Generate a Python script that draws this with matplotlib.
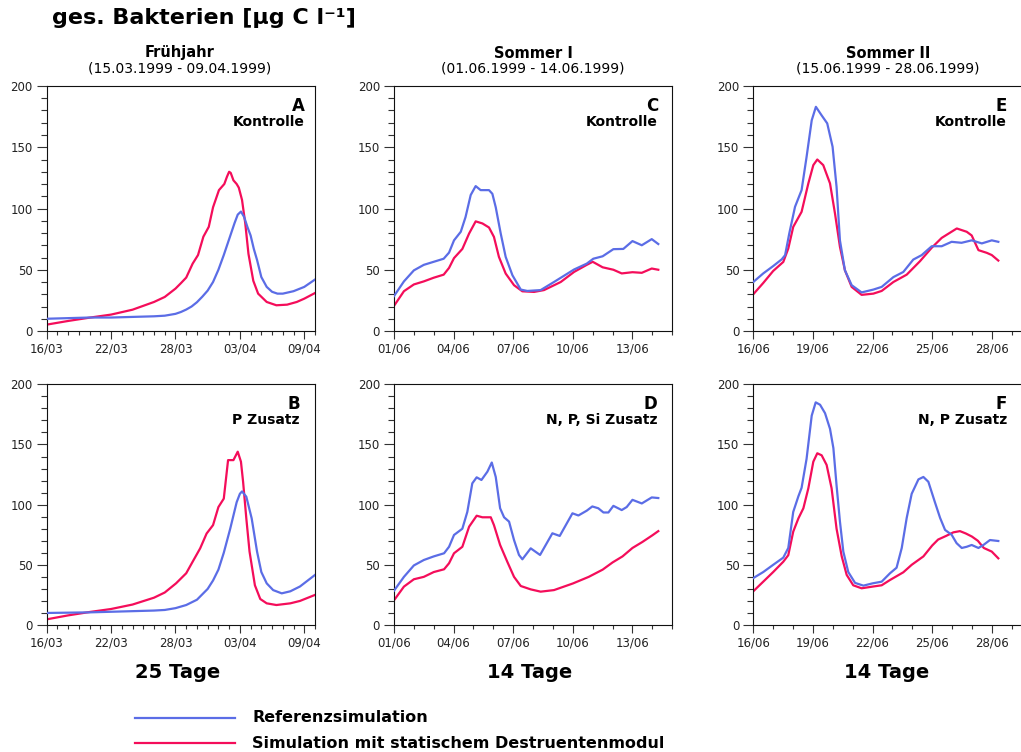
import matplotlib
matplotlib.use("Agg")
import matplotlib.pyplot as plt
from matplotlib.ticker import MultipleLocator

plt.rcParams['font.family'] = ['DejaVu Sans']

# days since first tick date, readings taken from the figure
a_ref_t = [0, 2, 4, 6, 8, 10, 11, 12, 12.5, 13, 13.5, 14, 14.5, 15, 15.5, 16, 16.5, 17, 17.5, 17.8, 18.1,
           18.4, 18.7, 19, 19.3, 19.6, 20, 20.5, 21, 21.5, 22, 23, 24, 25]
a_ref = [10, 10.5, 11, 11, 11.5, 12, 12.5, 14, 15.5, 17.5, 20, 23.5, 28, 33, 40, 50, 62, 75, 88, 95, 97.5,
         93, 85, 78, 67, 58, 44, 36, 32, 30.5, 30.5, 32.5, 36, 42]
a_stat_t = [0, 2, 4, 6, 8, 10, 11, 12, 12.5, 13, 13.6, 14.1, 14.6, 15.1, 15.5, 16.05, 16.55, 16.8, 17.0, 17.15,
            17.4, 17.7, 17.9, 18.2, 18.5, 18.8, 19.25, 19.7, 20.5, 21.4, 22.4, 23.3, 24, 25]
a_stat = [5.2, 8.2, 10.9, 13.4, 17.4, 23.7, 27.8, 34.6, 39, 43.6, 55, 62, 77, 85, 101, 115, 120, 126, 130, 129,
          123, 120, 117, 107, 88, 63, 41, 30.5, 23.7, 21, 21.5, 23.7, 26.4, 31]

b_ref_t = [0, 4, 8, 10, 11, 12, 13, 14, 15, 15.5, 16, 16.5, 17.1, 17.7, 18.0, 18.2, 18.6, 19.1, 19.6, 20,
           20.5, 21.1, 21.9, 22.7, 23.6, 25]
b_ref = [10, 10.5, 11.5, 12, 12.5, 14, 16.6, 21, 30, 37, 46, 60, 80, 102, 109, 111, 106.6, 88.6, 61, 44,
         34.6, 29, 26.3, 28, 32, 41.6]
b_stat_t = [0, 2, 4, 6, 8, 10, 11, 12.05, 13, 13.6, 14.3, 14.9, 15.5, 16, 16.5, 16.9, 17.4, 17.8, 18.1, 18.3,
            18.6, 18.9, 19.4, 19.9, 20.5, 21.4, 22.7, 23.6, 25]
b_stat = [4.7, 8, 10.8, 13.3, 17, 22.7, 27, 34.6, 43, 52.6, 63.7, 76, 83, 98, 105, 137, 137, 144, 135.7, 119,
          88.6, 61, 33, 21.6, 18, 16.6, 18, 20, 25]

c_ref_t = [0, 0.5, 1.0, 1.5, 2.0, 2.5, 2.77, 3.02, 3.36, 3.6, 3.86, 4.11, 4.36, 4.78, 4.95, 5.12, 5.37, 5.62,
           5.96, 6.38, 6.71, 7.38, 8.05, 9.06, 9.7, 10.03, 10.5, 11.04, 11.54, 12.0, 12.47, 12.97, 13.3]
c_ref = [28.5, 40.5, 49.5, 54, 56.5, 59, 64, 74, 81, 93, 111, 118.3, 115, 115, 112, 101, 79.6, 60.5,
         45.5, 33.8, 32.7, 33.4, 40, 50.2, 55, 59, 61, 66.8, 67, 73.4, 70, 75, 71]
c_stat_t = [0, 0.5, 1.0, 1.5, 2.0, 2.5, 2.77, 3.02, 3.44, 3.78, 4.11, 4.45, 4.78, 5.03, 5.28, 5.62, 6.04,
            6.46, 7.05, 7.55, 8.39, 9.06, 9.7, 10.0, 10.5, 11.04, 11.46, 12.0, 12.47, 12.97, 13.3]
c_stat = [20.5, 32.5, 38, 40.5, 43.5, 46, 51.5, 59.5, 67, 79.6, 89.5, 87.8, 84.5, 76.8, 60.5, 46.9, 37.4,
          32.4, 31.9, 33.4, 40, 48.2, 54, 56.5, 52, 50, 47, 48, 47.5, 51, 50]

d_ref_t = [0, 0.5, 1.0, 1.5, 2.0, 2.52, 2.77, 3.02, 3.44, 3.69, 3.94, 4.16, 4.4, 4.7, 4.92, 5.12, 5.34, 5.54,
           5.79, 6.04, 6.29, 6.46, 6.88, 7.35, 7.97, 8.34, 8.98, 9.28, 9.7, 9.98, 10.28, 10.54, 10.79, 11.04,
           11.46, 11.71, 12.0, 12.47, 12.97, 13.3]
d_ref = [28.5, 40, 49.5, 54, 57, 59.6, 65, 74.8, 80, 94, 117.7, 122.7, 120.5, 127.4, 135, 123, 97, 89.5,
         85.9, 70.6, 58.2, 54.6, 63.7, 58.2, 76.2, 74, 92.8, 91, 95, 98.5, 97, 93.5, 93.5, 99,
         95.5, 98, 104, 101, 106, 105.5]
d_stat_t = [0, 0.5, 1.0, 1.5, 2.0, 2.52, 2.77, 3.02, 3.44, 3.78, 4.16, 4.45, 4.87, 5.03, 5.34, 5.7, 6.04,
            6.38, 6.88, 7.38, 8.05, 9.0, 9.8, 10.5, 11.0, 11.5, 12.0, 12.5, 13.0, 13.3]
d_stat = [20.5, 31.9, 38, 40, 44, 46.3, 51.3, 59.6, 65, 81.7, 90.8, 89.5, 89.5, 83, 66.5, 52.6, 40,
          32.4, 29.6, 27.7, 29, 34.5, 40, 46, 52, 57, 64, 69, 74.5, 78]

e_ref_t = [0, 0.5, 1.0, 1.43, 1.6, 1.81, 2.1, 2.43, 2.68, 2.94, 3.15, 3.44, 3.72, 3.99, 4.19, 4.36, 4.61,
           4.95, 5.45, 6.04, 6.46, 7.05, 7.55, 8.05, 8.47, 8.98, 9.48, 9.98, 10.48, 10.99, 11.5, 12.0, 12.33]
e_ref = [40, 47, 53, 58.5, 61.9, 79.6, 101.4, 115, 142, 172, 183, 176, 169.5, 150.4, 117.7, 74, 49.6,
         37.4, 31.5, 33.8, 36, 44, 48.2, 58.3, 61.9, 69.2, 69.2, 72.8, 72, 74, 71.5, 74, 72.8]
e_stat_t = [0, 0.5, 1.0, 1.51, 1.76, 2.01, 2.43, 2.77, 3.02, 3.22, 3.52, 3.86, 4.11, 4.36, 4.61, 4.95, 5.45,
            6.04, 6.46, 7.05, 7.72, 8.39, 8.98, 9.48, 10.24, 10.74, 10.99, 11.33, 11.75, 12.0, 12.33]
e_stat = [30, 39.2, 49, 56.4, 67.3, 85, 97.3, 120.5, 135.4, 140, 135.4, 120.5, 96, 68.7, 49.6, 36, 29.5,
          30.5, 32.7, 40, 46, 57, 68, 76, 83.7, 81, 78, 66, 63.8, 62, 57.5]

f_ref_t = [0, 0.5, 1.0, 1.51, 1.76, 2.01, 2.27, 2.43, 2.68, 2.94, 3.14, 3.36, 3.61, 3.86, 4.03, 4.19, 4.36,
           4.53, 4.78, 5.12, 5.54, 6.0, 6.46, 6.88, 7.21, 7.47, 7.72, 7.97, 8.31, 8.56, 8.81, 9.14, 9.4,
           9.65, 9.98, 10.23, 10.49, 10.74, 10.99, 11.33, 11.58, 11.91, 12.33]
f_ref = [39, 44, 50, 56, 64, 94, 107, 114, 138, 174, 185, 183, 176, 163, 147, 116, 86,
         61, 44, 35, 32.7, 34.6, 36, 43, 47.6, 64, 89, 109, 121, 123, 119, 102, 89,
         79, 75, 68, 64, 65, 66.5, 64, 66.5, 70.6, 69.8]
f_stat_t = [0, 0.5, 1.0, 1.51, 1.76, 2.01, 2.27, 2.52, 2.77, 3.02, 3.22, 3.44, 3.69, 3.94, 4.19, 4.45, 4.7,
            5.03, 5.45, 6.0, 6.46, 6.88, 7.55, 7.97, 8.56, 9.0, 9.3, 9.7, 10.07, 10.4, 10.7, 11.0, 11.3,
            11.6, 12.0, 12.33]
f_stat = [28, 36, 44, 52.6, 58, 77.6, 88.6, 97, 113.6, 135.7, 142.7, 141, 133, 113.6, 80, 57, 41.6,
          33, 30.5, 31.9, 33, 37.4, 43.8, 50, 57, 66, 71, 74, 77, 78, 76, 73.5, 70,
          64, 61, 55.4]

ticks_fr = ['16/03', '22/03', '28/03', '03/04', '09/04']
ticks_s1 = ['01/06', '04/06', '07/06', '10/06', '13/06']
ticks_s2 = ['16/06', '19/06', '22/06', '25/06', '28/06']

W, H = 1021, 752
blue = '#5b6de6'
red = '#f40d5a'

fig = plt.figure(figsize=(W / 100, H / 100), dpi=100)


def fx(x):
    return x / W


def fy(y):
    return 1 - y / H


cols = [(46.7, 268.3, 25, 6, ticks_fr), (394, 278.2, 14, 3, ticks_s1), (753.3, 278.2, 14, 3, ticks_s2)]
rows = [(86, 331), (384.3, 625)]

panels = [
    (0, 0, 'A', 'Kontrolle', a_ref_t, a_ref, a_stat_t, a_stat, 305),
    (1, 0, 'B', 'P Zusatz', b_ref_t, b_ref, b_stat_t, b_stat, 300),
    (0, 1, 'C', 'Kontrolle', c_ref_t, c_ref, c_stat_t, c_stat, 658),
    (1, 1, 'D', 'N, P, Si Zusatz', d_ref_t, d_ref, d_stat_t, d_stat, 657),
    (0, 2, 'E', 'Kontrolle', e_ref_t, e_ref, e_stat_t, e_stat, 1007),
    (1, 2, 'F', 'N, P Zusatz', f_ref_t, f_ref, f_stat_t, f_stat, 1007),
]

for r, c, letter, name, rt, rv, st, sv, tx in panels:
    left, width, ndays, step, labels = cols[c]
    top, bottom = rows[r]
    ax = fig.add_axes([fx(left), fy(bottom), width / W, (bottom - top) / H])
    ax.plot(rt, rv, color=blue, lw=1.6, zorder=3)
    ax.plot(st, sv, color=red, lw=1.6, zorder=2)
    ax.set_xlim(0, ndays)
    ax.set_ylim(0, 200)
    ax.set_xticks([i * step for i in range(len(labels))], labels)
    ax.xaxis.set_minor_locator(MultipleLocator(1))
    ax.yaxis.set_major_locator(MultipleLocator(50))
    ax.yaxis.set_minor_locator(MultipleLocator(10))
    ax.tick_params(axis='both', which='both', direction='out', colors='#333333',
                   labelsize=8.5, labelcolor='#222222')
    ax.tick_params(axis='y', which='major', length=7, width=0.8, pad=3)
    ax.tick_params(axis='y', which='minor', length=4, width=0.8)
    ax.tick_params(axis='x', which='major', length=5.5, width=0.8, pad=3)
    ax.tick_params(axis='x', which='minor', length=3, width=0.8)
    for sp in ax.spines.values():
        sp.set_linewidth(0.8)
        sp.set_color('#111111')
    ytop = top + 20
    fig.text(fx(tx), fy(ytop), letter, ha='right', va='center', fontsize=12, fontweight='bold')
    fig.text(fx(tx), fy(ytop + 16), name, ha='right', va='center', fontsize=10, fontweight='bold')

fig.text(fx(52), fy(18), 'ges. Bakterien [µg C l⁻¹]', ha='left', va='center',
         fontsize=16, fontweight='bold')

heads = [('Frühjahr', '(15.03.1999 - 09.04.1999)', 180),
         ('Sommer I', '(01.06.1999 - 14.06.1999)', 533),
         ('Sommer II', '(15.06.1999 - 28.06.1999)', 888)]
for t1, t2, cx in heads:
    fig.text(fx(cx), fy(53), t1, ha='center', va='center', fontsize=10.5, fontweight='bold')
    fig.text(fx(cx), fy(69), t2, ha='center', va='center', fontsize=10)

for txt, cx in [('25 Tage', 178), ('14 Tage', 530), ('14 Tage', 887)]:
    fig.text(fx(cx), fy(673), txt, ha='center', va='center', fontsize=14, fontweight='bold')

# legend drawn by hand in figure coordinates
for yy, col, lab in [(718, blue, 'Referenzsimulation'),
                     (743, red, 'Simulation mit statischem Destruentenmodul')]:
    fig.add_artist(plt.Line2D([fx(135), fx(235)], [fy(yy), fy(yy)], color=col, lw=1.6))
    fig.text(fx(252), fy(yy), lab, ha='left', va='center', fontsize=11.5, fontweight='bold')

fig.savefig('out.png', dpi=100)
